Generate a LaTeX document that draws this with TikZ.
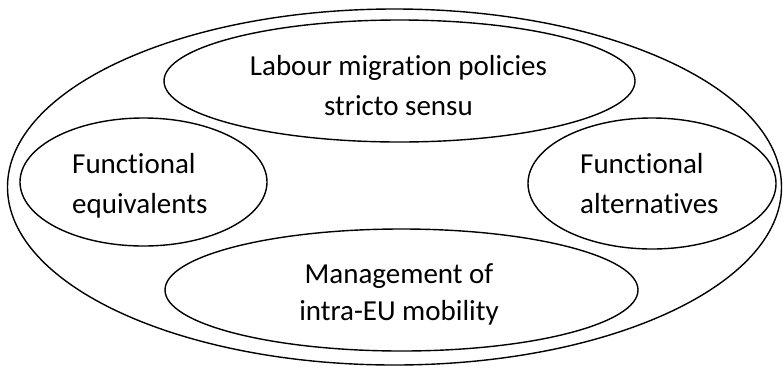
\documentclass[tikz,border=0pt]{standalone}
\usepackage{fontspec}
\setmainfont{Carlito}[Ligatures={NoCommon,NoContextual}]
\usetikzlibrary{shapes.geometric}
\tikzset{
  oval/.style={ellipse, draw=black, line width=1.4bp, inner sep=0pt},
  lbl/.style={font=\fontsize{29bp}{40bp}\selectfont, inner sep=0pt, text=black},
}
\begin{document}
\begin{tikzpicture}[x=1bp,y=-1bp]
\useasboundingbox (0,0) rectangle (783,366);
\node[oval, minimum width=774bp, minimum height=356bp] (outer) at (394.5,187) {};
\node[oval, minimum width=471bp, minimum height=122bp] (topov) at (399.5,81) {};
\node[oval, minimum width=247bp, minimum height=128bp] (leftov) at (143.5,182) {};
\node[oval, minimum width=248bp, minimum height=131bp] (rightov) at (652,183.5) {};
\node[oval, minimum width=473bp, minimum height=122bp] (botov) at (401.5,290) {};
\node[lbl, anchor=base] (t1) at (398.5,75) {Labour migration policies};
\node[lbl, anchor=base] (t2) at (398.5,115) {stricto sensu};
\node[lbl, anchor=base west] (l1) at (72,173) {Functional};
\node[lbl, anchor=base west] (l2) at (72,213) {equivalents};
\node[lbl, anchor=base west] (r1) at (580,173) {Functional};
\node[lbl, anchor=base west] (r2) at (580,213) {alternatives};
\node[lbl, anchor=base] (b1) at (399,283) {Management of};
\node[lbl, anchor=base] (b2) at (399,320) {intra-EU mobility};
\end{tikzpicture}
\end{document}
